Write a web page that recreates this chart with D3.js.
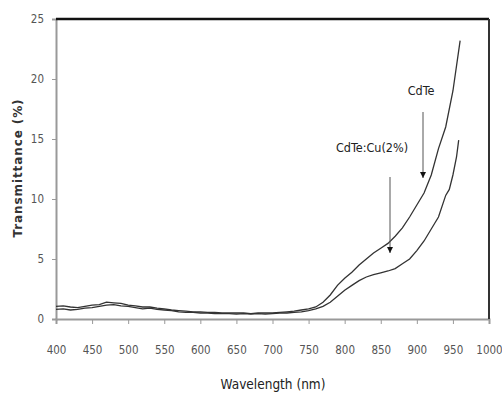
<!DOCTYPE html>
<html>
<head>
<meta charset="utf-8">
<script src="https://cdn.jsdelivr.net/npm/d3@7"></script>
<style>
  body { margin: 0; background: #fff; }
  svg { display: block; }
  .tick text { font-family: 'DejaVu Sans Condensed', 'DejaVu Sans', sans-serif; font-stretch: condensed; font-size: 11.5px; fill: #555; }
</style>
</head>
<body>
<div id="chart"></div>
<script>
// Transmittance spectra
const wlCdTe = [400, 410, 420, 430, 440, 450, 460, 470, 480, 490, 500, 510, 520, 530, 540, 550, 560, 570, 580, 590,
  600, 610, 620, 630, 640, 650, 660, 670, 680, 690, 700, 710, 720, 730, 740, 750, 760, 770, 780, 790,
  800, 810, 820, 830, 840, 850, 860, 870, 880, 890, 900, 910, 920, 930, 940, 950, 960];
const tCdTe = [1.05, 1.1, 1.0, 0.95, 1.05, 1.15, 1.2, 1.4, 1.35, 1.3, 1.15, 1.1, 1.0, 1.0, 0.9, 0.85, 0.75, 0.7, 0.65, 0.6,
  0.6, 0.55, 0.55, 0.5, 0.5, 0.5, 0.5, 0.45, 0.5, 0.5, 0.5, 0.55, 0.6, 0.65, 0.75, 0.85, 1.0, 1.4, 2.0, 2.8,
  3.4, 3.9, 4.5, 5.0, 5.5, 5.9, 6.3, 6.9, 7.6, 8.5, 9.5, 10.5, 12.0, 14.2, 16.0, 19.0, 23.2];

const wlCu = [400, 410, 420, 430, 440, 450, 460, 470, 480, 490, 500, 510, 520, 530, 540, 550, 560, 570, 580, 590,
  600, 610, 620, 630, 640, 650, 660, 670, 680, 690, 700, 710, 720, 730, 740, 750, 760, 770, 780, 790,
  800, 810, 820, 830, 840, 850, 860, 870, 880, 890, 900, 910, 920, 930, 940, 945, 950, 955, 958];
const tCu = [0.8, 0.85, 0.75, 0.8, 0.9, 0.95, 1.05, 1.15, 1.2, 1.1, 1.05, 0.95, 0.85, 0.9, 0.8, 0.75, 0.7, 0.6, 0.55, 0.55,
  0.5, 0.5, 0.45, 0.45, 0.45, 0.4, 0.45, 0.4, 0.45, 0.4, 0.45, 0.5, 0.5, 0.55, 0.6, 0.7, 0.85, 1.05, 1.4, 1.9,
  2.4, 2.8, 3.2, 3.5, 3.7, 3.85, 4.0, 4.2, 4.6, 5.0, 5.7, 6.5, 7.5, 8.5, 10.3, 10.8, 12.0, 13.5, 14.9];

const xTicks = [400, 450, 500, 550, 600, 650, 700, 750, 800, 850, 900, 950, 1000];
const yTicks = [0, 5, 10, 15, 20, 25];

const width = 502, height = 394;
const margin = { top: 19, right: 13, bottom: 75, left: 56 };

const svg = d3.select('#chart').append('svg')
  .attr('width', width)
  .attr('height', height);

const x = d3.scaleLinear().domain([400, 1000]).range([margin.left, width - margin.right]);
const y = d3.scaleLinear().domain([0, 25]).range([height - margin.bottom, margin.top]);

// Axes
const xAxis = svg.append('g')
  .attr('transform', `translate(0,${y(0)})`)
  .call(d3.axisBottom(x).tickValues(xTicks).tickSize(5).tickPadding(22).tickFormat(d3.format('d')));
xAxis.select('.domain').attr('stroke', '#999').attr('stroke-width', 2);
xAxis.selectAll('.tick line').attr('stroke', '#999');

const yAxis = svg.append('g')
  .attr('transform', `translate(${x(400)},0)`)
  .call(d3.axisLeft(y).tickValues(yTicks).tickSize(4).tickPadding(8));
yAxis.select('.domain').attr('stroke', '#999').attr('stroke-width', 2);
yAxis.selectAll('.tick line').attr('stroke', '#999');

// Top and right frame
svg.append('line')
  .attr('x1', x(400)).attr('x2', x(1000))
  .attr('y1', y(25)).attr('y2', y(25))
  .attr('stroke', '#111').attr('stroke-width', 2.5);
svg.append('line')
  .attr('x1', x(1000)).attr('x2', x(1000))
  .attr('y1', y(25)).attr('y2', y(0))
  .attr('stroke', '#333').attr('stroke-width', 2);

// Curves
const line = d3.line()
  .x(d => x(d[0]))
  .y(d => y(d[1]));

[[wlCdTe, tCdTe], [wlCu, tCu]].forEach(([wl, t]) => {
  svg.append('path')
    .datum(wl.map((w, i) => [w, t[i]]))
    .attr('d', line)
    .attr('fill', 'none')
    .attr('stroke', '#333')
    .attr('stroke-width', 1.3);
});

// Arrow annotations
svg.append('defs').append('marker')
  .attr('id', 'arrow')
  .attr('viewBox', '0 0 10 10')
  .attr('refX', 10).attr('refY', 5)
  .attr('markerWidth', 6).attr('markerHeight', 8)
  .attr('orient', 'auto')
  .append('path')
  .attr('d', 'M0,0L10,5L0,10Z')
  .attr('fill', '#111');

const labelFont = "'DejaVu Sans Condensed', 'DejaVu Sans', sans-serif";

svg.append('text')
  .attr('x', 421).attr('y', 95)
  .attr('text-anchor', 'middle')
  .style('font-family', labelFont).style('font-stretch', 'condensed')
  .style('font-size', '12.5px').style('fill', '#222')
  .text('CdTe');
svg.append('line')
  .attr('x1', 423).attr('x2', 423)
  .attr('y1', 112).attr('y2', 178)
  .attr('stroke', '#555').attr('stroke-width', 1)
  .attr('marker-end', 'url(#arrow)');

svg.append('text')
  .attr('x', 372).attr('y', 152)
  .attr('text-anchor', 'middle')
  .style('font-family', labelFont).style('font-stretch', 'condensed')
  .style('font-size', '12.5px').style('fill', '#222')
  .text('CdTe:Cu(2%)');
svg.append('line')
  .attr('x1', 390).attr('x2', 390)
  .attr('y1', 177).attr('y2', 253)
  .attr('stroke', '#555').attr('stroke-width', 1)
  .attr('marker-end', 'url(#arrow)');

// Axis titles
svg.append('text')
  .attr('x', 273).attr('y', 389)
  .attr('text-anchor', 'middle')
  .style('font-family', labelFont).style('font-stretch', 'condensed')
  .style('font-size', '13.5px').style('fill', '#222')
  .text('Wavelength (nm)');

svg.append('text')
  .attr('transform', `translate(22,168) rotate(-90)`)
  .attr('text-anchor', 'middle')
  .style('font-family', "'DejaVu Sans', sans-serif").style('font-size', '12px')
  .style('font-weight', 'bold').style('letter-spacing', '0.9px').style('fill', '#333')
  .text('Transmittance (%)');
</script>
</body>
</html>
